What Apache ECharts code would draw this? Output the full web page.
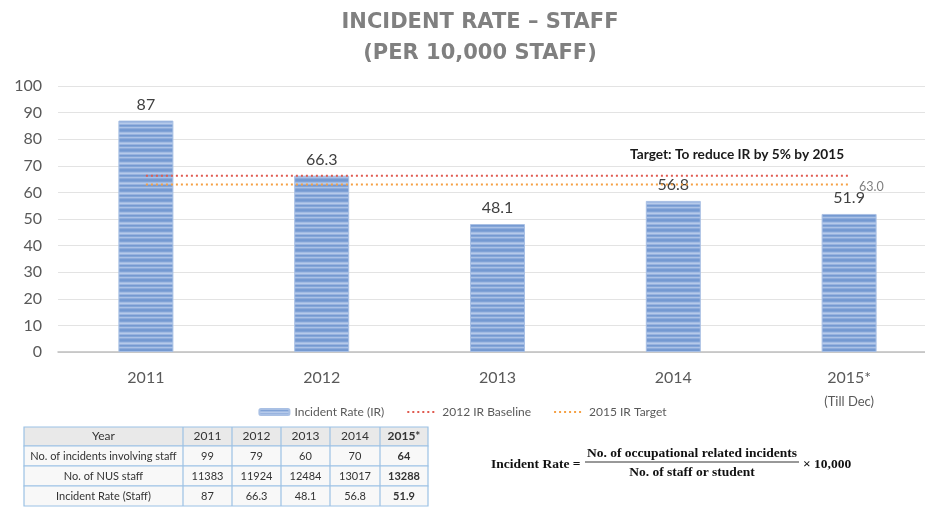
<!DOCTYPE html>
<html><head><meta charset="utf-8">
<script src="https://cdn.jsdelivr.net/npm/echarts@6/dist/echarts.min.js"></script>
<style>html,body{margin:0;padding:0;background:#fff}#c{width:925px;height:508px}</style>
</head><body><div id="c"></div>
<script>
var categories = ['2011', '2012', '2013', '2014', '2015*'];
var rates = [87, 66.3, 48.1, 56.8, 51.9];
var baseline2012 = [66.3, 66.3, 66.3, 66.3, 66.3];
var target2015 = [63.0, 63.0, 63.0, 63.0, 63.0];
var yTicks = [0, 10, 20, 30, 40, 50, 60, 70, 80, 90, 100];
var tableYears = ['2011', '2012', '2013', '2014', '2015*'];
var incidents = [99, 79, 60, 70, 64];
var nusStaff = [11383, 11924, 12484, 13017, 13288];
var rateStaff = ['87', '66.3', '48.1', '56.8', '51.9'];
var rowHeads = ['Year', 'No. of incidents involving staff', 'No. of NUS staff', 'Incident Rate (Staff)'];

var FONT = 'Lato, "Open Sans", sans-serif';

// striped bar pattern
var pc = document.createElement('canvas');
var stripes = ['#7499d1','#80a2d6','#a2bbe3','#b6caea','#98b3df','#7599d1','#84a6d8','#aac1e6','#8dabda','#779bd2'];
pc.width = 4; pc.height = stripes.length;
var pctx = pc.getContext('2d');
stripes.forEach(function (c, i) { pctx.fillStyle = c; pctx.fillRect(0, i, 4, 1); });

var chart = echarts.init(document.getElementById('c'), null, {renderer: 'canvas'});

// table graphic
var BORDER = '#9cc2e5';
var colX = [24, 183, 232, 281, 330, 380, 428];
var rowY = [427, 446, 466, 486, 506];
var tableEls = [];
var rows = [tableYears, incidents, nusStaff, rateStaff];
for (var r = 0; r < 4; r++) {
  tableEls.push({type: 'rect', shape: {x: colX[0], y: rowY[r], width: colX[6] - colX[0], height: rowY[r + 1] - rowY[r]},
    style: {fill: r === 0 ? '#e9e9e9' : '#f8f8f8', stroke: BORDER, lineWidth: 1.2}});
  tableEls.push({type: 'text', x: (colX[0] + colX[1]) / 2, y: (rowY[r] + rowY[r + 1]) / 2,
    style: {text: rowHeads[r], fill: '#333', font: (r === 0 ? '12px ' : '11px ') + FONT, textAlign: 'center', textVerticalAlign: 'middle'}});
  for (var c = 0; c < 5; c++) {
    tableEls.push({type: 'text', x: (colX[c + 1] + colX[c + 2]) / 2, y: (rowY[r] + rowY[r + 1]) / 2,
      style: {text: String(rows[r][c]), fill: '#333', font: (c === 4 ? 'bold ' : '') + (r === 0 ? '12px ' : '11px ') + FONT, textAlign: 'center', textVerticalAlign: 'middle'}});
  }
}
for (var k = 1; k < 6; k++) {
  tableEls.push({type: 'line', shape: {x1: colX[k], y1: rowY[0], x2: colX[k], y2: rowY[4]}, style: {stroke: BORDER, lineWidth: 1.2}});
}

var SERIF = '"Liberation Serif", "DejaVu Serif", serif';
var FF = 'bold 13.5px ' + SERIF;
var formulaEls = [
  {type: 'text', x: 491, y: 465, style: {text: 'Incident Rate =', font: FF, fill: '#111', textVerticalAlign: 'middle'}},
  {type: 'text', x: 692, y: 454, style: {text: 'No. of occupational related incidents', font: FF, fill: '#111', textAlign: 'center', textVerticalAlign: 'middle'}},
  {type: 'line', shape: {x1: 585, y1: 462, x2: 799, y2: 462}, style: {stroke: '#333', lineWidth: 1}},
  {type: 'text', x: 692, y: 473, style: {text: 'No. of staff or student', font: FF, fill: '#111', textAlign: 'center', textVerticalAlign: 'middle'}},
  {type: 'text', x: 803, y: 465, style: {text: '\u00d7 10,000', font: FF, fill: '#111', textVerticalAlign: 'middle'}}
];

chart.setOption({
  animation: false,
  title: {
    text: 'INCIDENT RATE \u2013 STAFF\n(PER 10,000 STAFF)',
    left: 475, top: 2, textAlign: 'center',
    textStyle: {fontFamily: '"DejaVu Sans", sans-serif', fontWeight: 'bold', fontSize: 21, color: '#808080', lineHeight: 31}
  },
  legend: {
    top: 401, left: 'center',
    itemWidth: 30, itemHeight: 6, itemGap: 22,
    textStyle: {fontFamily: FONT, fontSize: 12, color: '#595959'},
    data: [
      {name: 'Incident Rate (IR)'},
      {name: '2012 IR Baseline', itemStyle: {opacity: 0}},
      {name: '2015 IR Target', itemStyle: {opacity: 0}}
    ]
  },
  grid: {left: 58, top: 86, width: 879, height: 266, outerBoundsMode: 'none'},
  xAxis: {
    type: 'category', data: categories, boundaryGap: true,
    axisTick: {show: false},
    axisLine: {lineStyle: {color: '#bfbfbf', width: 1.5}},
    axisLabel: {
      margin: 18, color: '#595959', fontFamily: FONT, fontSize: 16,
      formatter: function (v) { return v === '2015*' ? '2015*\n{s|(Till Dec)}' : v; },
      rich: {s: {fontSize: 13, color: '#595959', fontFamily: FONT, lineHeight: 32}}
    }
  },
  yAxis: {
    type: 'value', min: yTicks[0], max: yTicks[yTicks.length - 1], interval: 10,
    axisLine: {show: false}, axisTick: {show: false},
    splitLine: {lineStyle: {color: '#e3e3e3', width: 1}},
    axisLabel: {margin: 16, color: '#595959', fontFamily: FONT, fontSize: 16}
  },
  series: [
    {
      name: 'Incident Rate (IR)', type: 'bar', data: rates, barWidth: 55,
      itemStyle: {color: {image: pc, repeat: 'repeat'}, borderColor: '#a9c0e4', borderWidth: 1},
      label: {show: true, position: 'top', distance: 8, color: '#404040', fontFamily: FONT, fontSize: 16},
      z: 2
    },
    {
      name: '2012 IR Baseline', type: 'line', data: baseline2012, symbol: 'none',
      itemStyle: {color: '#e05a4f'},
      lineStyle: {color: '#e05a4f', width: 2, type: [2, 3]},
      z: 3
    },
    {
      name: '2015 IR Target', type: 'line', data: target2015, symbol: 'none',
      itemStyle: {color: '#f5a145'},
      lineStyle: {color: '#f5a145', width: 2, type: [2, 3]},
      endLabel: {show: true, distance: 10, offset: [0, 3], color: '#7f7f7f', fontFamily: FONT, fontSize: 12.5,
        formatter: function (p) { return Number(p.value).toFixed(1); }},
      z: 3
    }
  ],
  graphic: [
    {type: 'text', left: 630, top: 148, style: {text: 'Target: To reduce IR by 5% by 2015', font: 'bold 13.7px ' + FONT, fill: '#1a1a1a'}},
    {type: 'group', children: tableEls},
    {type: 'group', children: formulaEls}
  ]
});
</script></body></html>
